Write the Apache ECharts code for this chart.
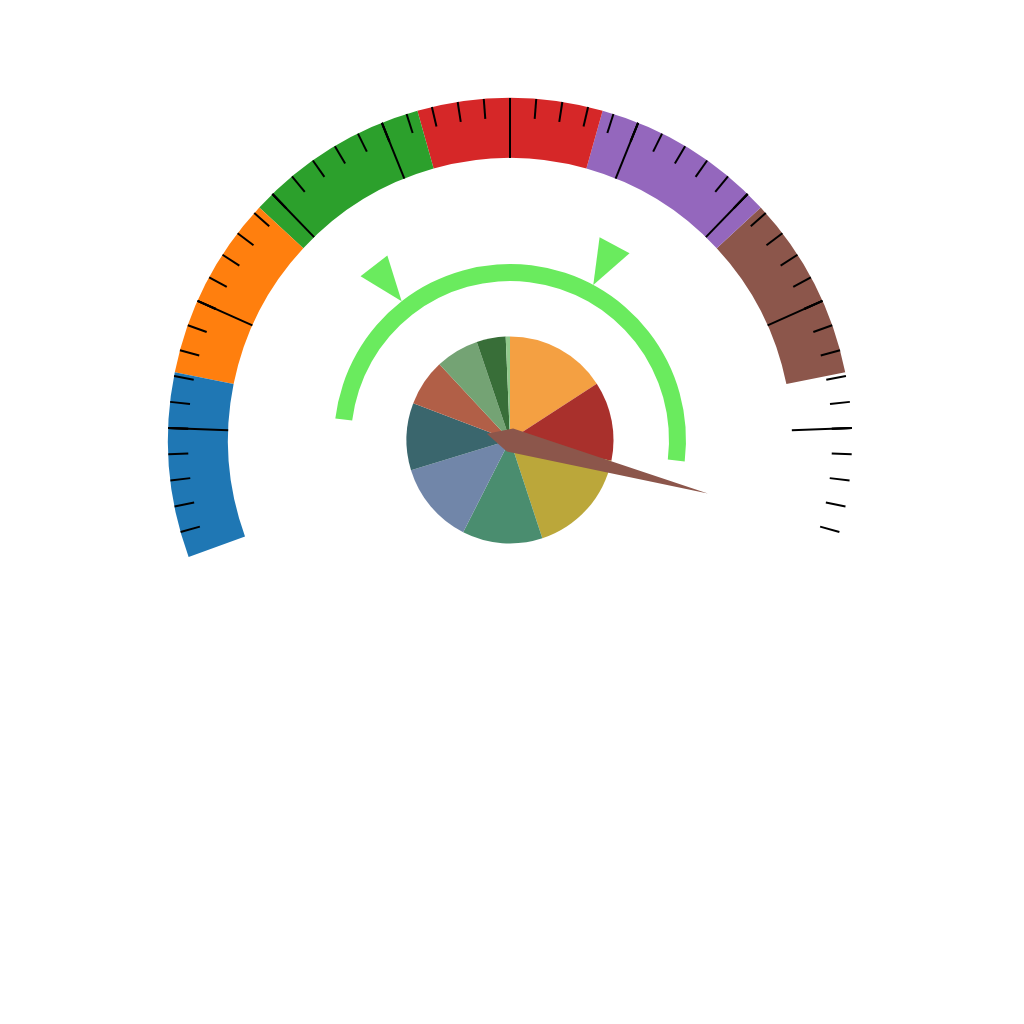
<!DOCTYPE html>
<html>
<head>
<meta charset="utf-8">
<script src="https://cdn.jsdelivr.net/npm/echarts@6/dist/echarts.min.js"></script>
<style>html,body{margin:0;padding:0;background:#fff}#main{width:1024px;height:1024px}</style>
</head>
<body>
<div id="main"></div>
<script>
// Outer gauge band: stop fractions and colours (the last stop is an empty, transparent segment)
const bandStops = [1/7, 2/7, 3/7, 4/7, 5/7, 6/7, 1];
const bandColors = ['#1f77b4', '#ff7f0e', '#2ca02c', '#d62728', '#9467bd', '#8c564b', 'rgba(0,0,0,0)'];
const pointerColor = '#8c564b';
// Outer gauge pointer value (0-100)
const gaugeValue = [97.8];
// Inner green gauge marker values (0-100)
const innerValues = [25, 61.8];
// Centre pie slice values and colours
const pieValues = [57, 44.6, 60.2, 45.1, 46.1, 37.8, 26.2, 24.3, 16.3, 2.4];
const pieColors = ['#f4a042', '#a9302c', '#bba73a', '#4a8d6f', '#7186a9', '#3a666d', '#b15f47', '#74a374', '#386e38', '#91ca8c'];
const innerColor = '#6aeb5e';

const CX = 510, CY = 440;

const chart = echarts.init(document.getElementById('main'), null, {renderer: 'canvas'});
const option = {
  animation: false,
  backgroundColor: '#ffffff',
  series: [
    {
      type: 'pie',
      z: 1,
      center: [CX, CY],
      radius: 103.5,
      startAngle: 90,
      clockwise: true,
      label: {show: false},
      labelLine: {show: false},
      emphasis: {disabled: true},
      itemStyle: {borderWidth: 0},
      data: pieValues.map((v, i) => ({value: v, itemStyle: {color: pieColors[i]}}))
    },
    {
      type: 'gauge',
      z: 5,
      center: [CX, CY],
      radius: 342,
      startAngle: 200,
      endAngle: -20,
      min: 0,
      max: 100,
      splitNumber: 10,
      axisLine: {
        show: true,
        lineStyle: {width: 60, color: bandStops.map((s, i) => [s, bandColors[i]])}
      },
      axisTick: {show: false},
      splitLine: {show: false},
      axisLabel: {show: false},
      pointer: {
        show: true,
        icon: 'path://M12,0 L24,205 L12,229 L0,205 Z',
        length: 229,
        width: 24,
        offsetCenter: [0, 24],
        keepAspect: false,
        itemStyle: {color: pointerColor}
      },
      anchor: {show: false},
      title: {show: false},
      detail: {show: false},
      data: gaugeValue.map(v => ({value: v}))
    },
    {
      type: 'gauge',
      z: 6,
      center: [CX, CY],
      radius: 342,
      startAngle: 200,
      endAngle: -20,
      min: 0,
      max: 100,
      splitNumber: 10,
      axisLine: {
        show: false,
        lineStyle: {width: 0, color: [[0.001, 'rgba(0,0,0,0)'], [0.999, '#000000'], [1, 'rgba(0,0,0,0)']]}
      },
      splitLine: {show: true, distance: 0, length: 60, lineStyle: {color: 'auto', width: 2}},
      axisTick: {show: true, distance: 0, length: 20, splitNumber: 5, lineStyle: {color: 'auto', width: 2}},
      axisLabel: {show: false},
      pointer: {show: false},
      anchor: {show: false},
      title: {show: false},
      detail: {show: false},
      data: []
    },
    {
      type: 'gauge',
      z: 3,
      center: [CX, CY],
      radius: 176,
      startAngle: 173,
      endAngle: -7,
      min: 0,
      max: 100,
      axisLine: {show: true, lineStyle: {width: 17, color: [[1, innerColor]]}},
      axisTick: {show: false},
      splitLine: {show: false},
      axisLabel: {show: false},
      pointer: {
        show: true,
        icon: 'path://M0,0 L2,0 L1,2 Z',
        length: 45,
        width: 34,
        offsetCenter: [0, -176],
        keepAspect: false,
        itemStyle: {color: innerColor}
      },
      anchor: {show: false},
      title: {show: false},
      detail: {show: false},
      data: innerValues.map(v => ({value: v}))
    }
  ]
};
chart.setOption(option);
</script>
</body>
</html>
